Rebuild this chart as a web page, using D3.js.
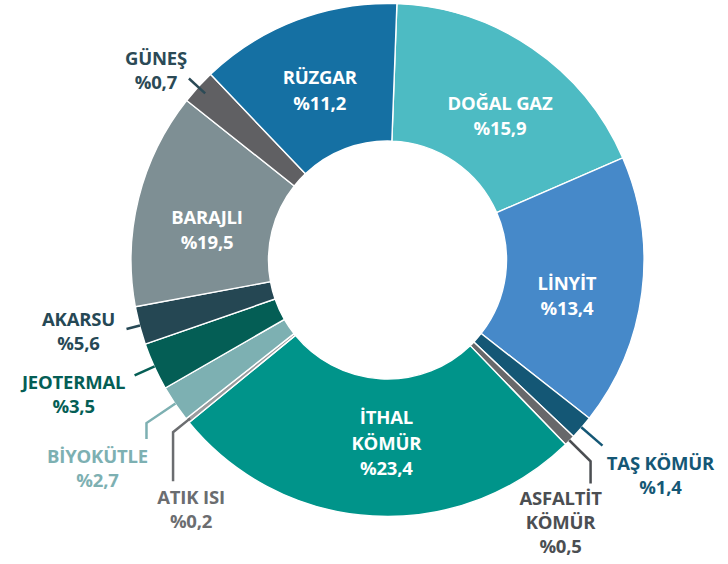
<!DOCTYPE html>
<html>
<head>
<meta charset="utf-8">
<script src="https://cdn.jsdelivr.net/npm/d3@7"></script>
<style>
    body { margin: 0; background: #fff; }
    svg text { font-family: "Open Sans", "Noto Sans", sans-serif; font-weight: 700; letter-spacing: -0.2px; }
</style>
</head>
<body>
<svg id="chart" width="728" height="564"></svg>
<script>
// Electricity sources, clockwise from 12 o'clock
const sources = ['DOĞAL GAZ', 'LİNYİT', 'TAŞ KÖMÜR', 'ASFALTİT KÖMÜR', 'İTHAL KÖMÜR', 'ATIK ISI',
    'BİYOKÜTLE', 'JEOTERMAL', 'AKARSU', 'BARAJLI', 'GÜNEŞ', 'RÜZGAR'];
// Printed shares (%)
const shares = [15.9, 13.4, 1.4, 0.5, 23.4, 0.2, 2.7, 3.5, 5.6, 19.5, 0.7, 11.2];
// Share of the ring each slice covers in the reference drawing (%), not the printed one
const ringShares = [17.9, 17.1, 1.5, 0.7, 26.3, 0.3, 2.3, 3.0, 2.4, 13.6, 2.2, 12.7];

const palette = {
    'DOĞAL GAZ': '#4dbbc3', 'LİNYİT': '#4689c9', 'TAŞ KÖMÜR': '#145775', 'ASFALTİT KÖMÜR': '#67686a',
    'İTHAL KÖMÜR': '#00948a', 'ATIK ISI': '#9a9c9e', 'BİYOKÜTLE': '#7db0b2', 'JEOTERMAL': '#045e55',
    'AKARSU': '#254753', 'BARAJLI': '#7e8f94', 'GÜNEŞ': '#606063', 'RÜZGAR': '#1570a3'
};
const labelColor = {
    'GÜNEŞ': '#2b4a56', 'AKARSU': '#264855', 'JEOTERMAL': '#055e55', 'BİYOKÜTLE': '#7db0b2',
    'ATIK ISI': '#6b6d70', 'TAŞ KÖMÜR': '#145775', 'ASFALTİT KÖMÜR': '#4b4e52'
};

const cx = 387.5, cy = 260;
const rIn = 119, rOut = 256.5;
const startDeg = 2.1;
const fontSize = 18.5, capH = 13.4;
const rad = Math.PI / 180;

let data = sources.map((s, i) => ({ name: s, share: shares[i], ring: ringShares[i] }));

let pie = d3.pie()
    .sort(null)
    .value(d => d.ring)
    .startAngle(startDeg * rad)
    .endAngle((startDeg + 360) * rad);

let arc = d3.arc().innerRadius(rIn).outerRadius(rOut);

let fmt = v => '%' + d3.format('.1f')(v).replace('.', ',');
let polar = (r, a) => [r * Math.sin(a), -r * Math.cos(a)];
let twoLine = new Set(['İTHAL KÖMÜR', 'ASFALTİT KÖMÜR']);
let linesOf = d => (twoLine.has(d.name) ? d.name.split(' ') : [d.name]).concat([fmt(d.share)]);

let svg = d3.select('#chart');
let g = svg.append('g').attr('transform', 'translate(' + cx + ',' + cy + ')');

let arcs = pie(data);

// Slices
g.selectAll('path.slice')
    .data(arcs)
    .enter().append('path')
    .attr('class', 'slice')
    .attr('d', arc)
    .style('fill', d => palette[d.data.name])
    .style('stroke', '#fff')
    .style('stroke-width', 1.4);

// Labels inside the big slices
const labelR = 183;
const labelTurn = { 'DOĞAL GAZ': 3.6, 'LİNYİT': 4, 'BARAJLI': -4.5, 'İTHAL KÖMÜR': -3, 'RÜZGAR': -1 };
let inner = arcs.filter(d => d.data.ring > 5);

inner.forEach(function(d) {
    let mid = (d.startAngle + d.endAngle) / 2 + (labelTurn[d.data.name] || 0) * rad;
    let p = polar(labelR, mid);
    let lines = linesOf(d.data);
    let lh = 25.5;
    let y0 = p[1] - (lines.length - 1) * lh / 2 + capH / 2;
    let t = g.append('text')
        .attr('text-anchor', 'middle')
        .attr('font-size', fontSize)
        .attr('fill', '#fff');
    lines.forEach(function(line, k) {
        t.append('tspan').attr('x', p[0]).attr('y', y0 + k * lh).text(line);
    });
});

// Labels outside with leader lines
const outerLayout = {
    'GÜNEŞ':          { r0: 247, r1: 269, drop: 0,  dx: -33, dy: -14, lh: 24 },
    'AKARSU':         { r0: 256, r1: 270, drop: 0,  dx: -48, dy: -3,  lh: 24 },
    'JEOTERMAL':      { r0: 256, r1: 278, drop: 0,  dx: -61, dy: 14,  lh: 24 },
    'BİYOKÜTLE':      { r0: 256, r1: 291, drop: 16, dx: -49, dy: 24,  lh: 24 },
    'ATIK ISI':       { r0: 253, r1: 275, drop: 49, dx: 18,  dy: 23,  lh: 24 },
    'TAŞ KÖMÜR':      { r0: 256, r1: 284, drop: 0,  dx: 58,  dy: 24,  lh: 24 },
    'ASFALTİT KÖMÜR': { r0: 256, r1: 286, drop: 22, dx: -30, dy: 22,  lh: 24 }
};

arcs.filter(d => d.data.ring <= 5).forEach(function(d) {
    let lay = outerLayout[d.data.name];
    let col = labelColor[d.data.name];
    let mid = (d.startAngle + d.endAngle) / 2;
    let a = polar(lay.r0, mid);
    let b = polar(lay.r1, mid);
    let end = [b[0], b[1] + lay.drop];

    let path = d3.path();
    path.moveTo(a[0], a[1]);
    path.lineTo(b[0], b[1]);
    if (lay.drop) path.lineTo(end[0], end[1]);

    g.append('path')
        .attr('d', path.toString())
        .style('fill', 'none')
        .style('stroke', col)
        .style('stroke-width', 2.5);

    let lines = linesOf(d.data);
    let t = g.append('text')
        .attr('text-anchor', 'middle')
        .attr('font-size', fontSize)
        .attr('fill', col);
    lines.forEach(function(line, k) {
        t.append('tspan')
            .attr('x', end[0] + lay.dx)
            .attr('y', end[1] + lay.dy + k * lay.lh)
            .text(line);
    });
});
</script>
</body>
</html>
